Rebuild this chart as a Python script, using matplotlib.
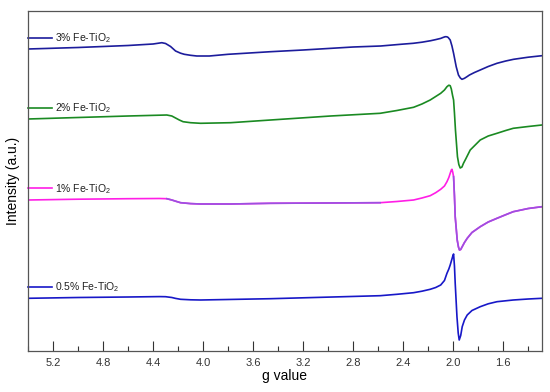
import numpy as np
import matplotlib.pyplot as plt

plt.rcParams['font.family'] = ['Liberation Sans', 'DejaVu Sans']
plt.rcParams['mathtext.fontset'] = 'custom'
plt.rcParams['mathtext.rm'] = 'Liberation Sans'
plt.rcParams['mathtext.it'] = 'Liberation Sans'

# EPR spectra, curves already offset (a.u.)
g_3 = [5.40, 5.00, 4.60, 4.40, 4.33, 4.30, 4.26, 4.22, 4.18, 4.15, 4.10, 4.05, 3.95, 3.80,
       3.46, 3.20, 2.80, 2.58, 2.42, 2.32, 2.25, 2.18, 2.14, 2.10, 2.08, 2.064, 2.05, 2.04,
       2.024, 2.010, 1.997, 1.976, 1.958, 1.943, 1.930, 1.91, 1.89, 1.87, 1.83, 1.784, 1.72,
       1.65, 1.58, 1.517, 1.40, 1.29]
i_3 = [302.0, 303.5, 305.5, 307.0, 308.3, 307.5, 304.5, 300.0, 297.8, 296.7, 295.7, 295.0,
       295.0, 296.7, 299.3, 301.0, 304.0, 305.0, 306.7, 307.7, 308.8, 310.3, 311.4, 312.6,
       313.6, 314.3, 314.2, 313.5, 311.0, 305.0, 297.7, 284.3, 276.0, 273.0, 271.7, 272.7,
       274.3, 276.0, 278.5, 281.0, 284.5, 287.7, 290.0, 291.7, 293.8, 295.3]

g_2 = [5.40, 5.00, 4.60, 4.35, 4.29, 4.25, 4.22, 4.19, 4.16, 4.10, 4.02, 3.78, 3.46, 2.98,
       2.584, 2.45, 2.317, 2.25, 2.184, 2.14, 2.10, 2.07, 2.05, 2.035, 2.024, 2.015, 2.005,
       1.997, 1.990, 1.982, 1.966, 1.955, 1.944, 1.930, 1.918, 1.90, 1.88, 1.864, 1.82, 1.784,
       1.72, 1.65, 1.58, 1.52, 1.40, 1.29]
i_2 = [232.0, 233.5, 235.0, 235.8, 236.0, 235.0, 233.0, 231.0, 229.3, 228.3, 227.7, 228.3,
       231.0, 235.0, 237.7, 240.5, 243.7, 247.0, 251.0, 254.5, 257.7, 261.0, 264.3, 265.8,
       265.3, 262.0, 255.5, 251.0, 238.0, 221.0, 194.3, 186.5, 183.0, 184.0, 187.7, 192.0,
       197.0, 201.0, 206.5, 211.0, 215.0, 217.7, 220.5, 222.7, 224.5, 226.0]

g_1 = [5.40, 5.00, 4.60, 4.35, 4.29, 4.25, 4.22, 4.18, 4.10, 4.02, 3.78, 3.46, 2.584, 2.45,
       2.317, 2.25, 2.184, 2.14, 2.10, 2.07, 2.05, 2.035, 2.024, 2.015, 2.010, 2.004, 1.997,
       1.990, 1.984, 1.968, 1.958, 1.950, 1.940, 1.928, 1.91, 1.888, 1.85, 1.784, 1.72, 1.65,
       1.58, 1.52, 1.40, 1.29]
i_1 = [151.0, 151.8, 152.3, 152.5, 152.3, 151.0, 149.8, 148.3, 147.4, 147.0, 147.0, 147.7,
       148.3, 149.5, 151.0, 153.0, 155.3, 158.3, 161.7, 165.0, 169.3, 173.5, 177.7, 181.0,
       181.7, 179.0, 174.3, 155.0, 134.3, 111.0, 104.0, 101.0, 101.5, 104.3, 108.5, 112.7,
       118.5, 124.3, 129.0, 132.7, 136.3, 139.3, 142.5, 144.3]

g_05 = [5.40, 5.00, 4.60, 4.35, 4.30, 4.25, 4.22, 4.18, 4.10, 4.02, 3.46, 2.584, 2.45, 2.317,
        2.25, 2.184, 2.14, 2.10, 2.07, 2.05, 2.035, 2.024, 2.010, 2.003, 1.997, 1.990, 1.984,
        1.970, 1.960, 1.952, 1.940, 1.928, 1.91, 1.888, 1.85, 1.784, 1.72, 1.65, 1.52, 1.40,
        1.29]
i_05 = [52.7, 53.5, 54.0, 54.4, 54.3, 53.5, 52.6, 51.7, 51.2, 51.0, 52.3, 55.3, 56.7, 58.3,
        59.8, 61.7, 63.5, 66.0, 70.5, 77.7, 82.0, 86.0, 92.0, 95.0, 97.0, 85.0, 67.7, 34.3,
        18.0, 11.0, 15.5, 24.3, 31.0, 36.0, 40.5, 44.3, 47.2, 49.3, 51.0, 52.0, 52.7]

labels = ['3% Fe-TiO$_2$', '2% Fe-TiO$_2$', '1% Fe-TiO$_2$', '0.5% Fe-TiO$_2$']
label_y = [313.3, 243.3, 162.7, 64.3]
colors = ['#1c1c9c', '#1a8a22', '#ff1ee6', '#1818c8']

fig = plt.figure(figsize=(5.5, 3.92), dpi=100)
ax = fig.add_axes([28 / 550, 41 / 392, 514 / 550, 340 / 392])

lw = 1.2
ax.plot(g_3, i_3, color=colors[0], lw=lw)
ax.plot(g_2, i_2, color=colors[1], lw=lw)
ax.plot(g_1, i_1, color=colors[2], lw=lw)
# parts of the 1% trace are drawn in a purple tone
g1 = np.array(g_1)
i1 = np.array(i_1, dtype=float)
purple = ((g1 <= 4.29) & (g1 >= 2.584)) | (g1 <= 1.997)
ax.plot(g1, np.where(purple, i1, np.nan), color='#9a52e0', lw=lw)
ax.plot(g_05, i_05, color=colors[3], lw=lw)

# inline legend: short line segment + text
for lab, y, c in zip(labels, label_y, colors):
    ax.plot([5.40, 5.21], [y, y], color=c, lw=lw, clip_on=False)
    ax.text(5.185, y - 4, lab, color='#222222', fontsize=7.5, va='baseline', ha='left')

ax.set_xlim(5.4, 1.29)
ax.set_ylim(0, 340)
ax.set_xticks(np.arange(5.2, 1.5, -0.4))
ax.set_xticks(np.arange(5.4, 1.3, -0.2), minor=True)
ax.set_xticklabels(['%.1f' % t for t in np.arange(5.2, 1.5, -0.4)])
ax.set_yticks([])
ax.tick_params(axis='x', which='major', direction='in', length=7, width=0.8,
               labelsize=8, pad=5, colors='#333333')
ax.tick_params(axis='x', which='minor', direction='in', length=3.5, width=0.8, colors='#333333')
for s in ax.spines.values():
    s.set_color('#555555')
    s.set_linewidth(0.9)

ax.set_xlabel('g value', fontsize=10, labelpad=1)
ax.set_ylabel('Intensity (a.u.)', fontsize=10, labelpad=6)

fig.savefig('out.png', dpi=100)
